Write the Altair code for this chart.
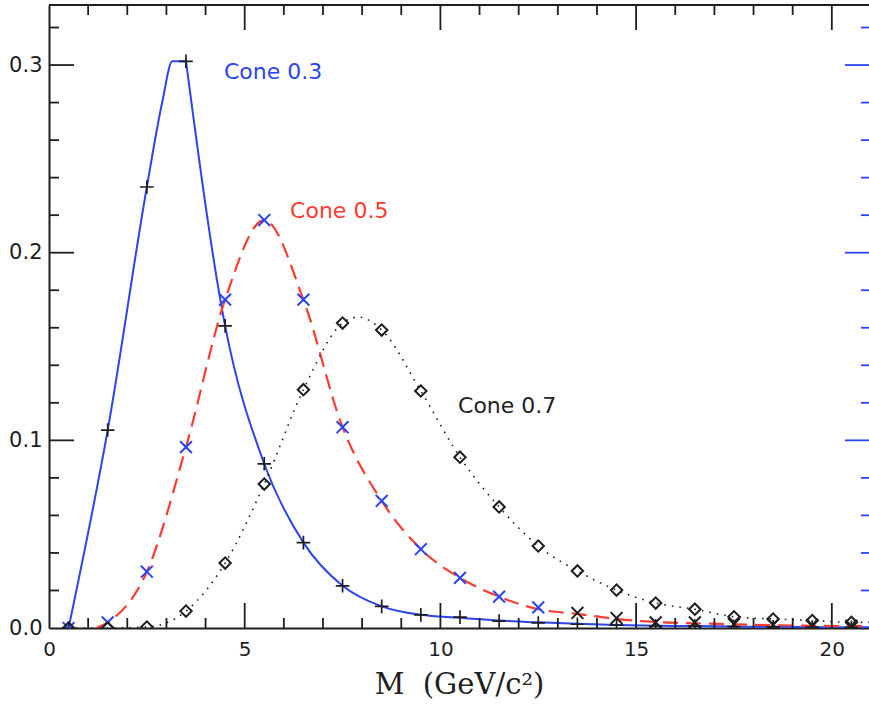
import altair as alt
import pandas as pd

# Bin centres of the mass histogram (GeV/c^2)
mass = [0.5, 1.5, 2.5, 3.5, 4.5, 5.5, 6.5, 7.5, 8.5, 9.5, 10.5,
        11.5, 12.5, 13.5, 14.5, 15.5, 16.5, 17.5, 18.5, 19.5, 20.5]

# Normalised distributions for the three cone sizes (markers)
cone03 = [0.0, 0.1055, 0.235, 0.302, 0.161, 0.0875, 0.0455, 0.0225, 0.0115,
          0.007, 0.0058, 0.0037, 0.0027, 0.002, 0.0015, 0.0012, 0.001,
          0.0008, 0.0006, 0.0005, 0.0004]
cone05 = [0.0, 0.003, 0.030, 0.0964, 0.175, 0.2174, 0.175, 0.107, 0.0677,
          0.042, 0.0267, 0.0167, 0.011, 0.008, 0.0053, 0.003, 0.003,
          0.002, 0.0018, 0.0015, 0.0012]
cone07 = [0.0, 0.0, 0.0005, 0.009, 0.0346, 0.0767, 0.127, 0.1625, 0.1588,
          0.1263, 0.091, 0.0645, 0.0437, 0.0304, 0.0202, 0.0133, 0.010,
          0.006, 0.0048, 0.004, 0.003]

# Smooth curves drawn under the markers.
# The Cone 0.3 curve has a flat top; it is drawn as a rising and a falling part.
rise03_m = [0.5, 1.5, 2.5, 2.9, 3.15, 3.5]
rise03_v = [0.0, 0.1055, 0.235, 0.281, 0.302, 0.302]
fall03_m = [3.5, 4.5, 5.5, 6.5, 7.5, 8.5, 9.5, 10.5, 11.5, 12.5, 13.5,
            14.5, 15.5, 16.5, 17.5, 18.5, 19.5, 20.5, 21.0]
fall03_v = [0.302, 0.161, 0.0875, 0.0455, 0.0225, 0.0115, 0.007, 0.0055,
            0.004, 0.003, 0.0022, 0.0016, 0.0012, 0.001, 0.0008, 0.0006,
            0.0005, 0.0004, 0.0004]
curve05_m = [1.2, 1.5, 2.5, 3.5, 4.5, 5.5, 6.5, 7.5, 8.5, 9.5, 10.5, 11.5,
             12.5, 13.5, 14.5, 15.5, 16.5, 17.5, 18.5, 19.5, 20.5, 21.0]
curve05_v = [0.0, 0.003, 0.030, 0.0964, 0.175, 0.2174, 0.175, 0.107, 0.0677,
             0.042, 0.0267, 0.0167, 0.010, 0.0075, 0.0048, 0.0032, 0.0025,
             0.002, 0.0015, 0.0012, 0.001, 0.001]
curve07_m = [0.5, 1.5, 2.5, 3.5, 4.5, 5.5, 6.5, 7.5, 7.9, 8.5, 9.5, 10.5,
             11.5, 12.5, 13.5, 14.5, 15.5, 16.5, 17.5, 18.5, 19.5, 20.5, 21.0]
curve07_v = [0.0, 0.0, 0.0005, 0.009, 0.0346, 0.0767, 0.127, 0.1625, 0.1657,
             0.1588, 0.1263, 0.091, 0.0645, 0.0437, 0.0304, 0.0202, 0.0133,
             0.010, 0.006, 0.0048, 0.004, 0.003, 0.003]

# Curve labels and their anchor points
label_text = ["Cone 0.3", "Cone 0.5", "Cone 0.7"]
label_m = [4.47, 6.16, 10.45]
label_v = [0.2963, 0.2222, 0.1183]

# Tick positions
x_major = [5, 10, 15, 20]
x_minor = [1, 2, 3, 4, 6, 7, 8, 9, 11, 12, 13, 14, 16, 17, 18, 19]
y_major = [0.1, 0.2, 0.3]
y_minor = [0.02, 0.04, 0.06, 0.08, 0.12, 0.14, 0.16, 0.18, 0.22, 0.24,
           0.26, 0.28, 0.32]
x_labels = [0, 5, 10, 15, 20]
y_labels = [0.0, 0.1, 0.2, 0.3]

BLUE = "#2a44f2"
RED = "#ff3b2f"
INK = "#1e1e1e"
W, H = 820, 623

xs = alt.Scale(domain=[0, 20.95], nice=False, zero=False)
ys = alt.Scale(domain=[0, 0.332], nice=False, zero=False)

x_axis = alt.Axis(
    values=x_labels, ticks=False, grid=False, domainColor=INK,
    domainWidth=2, labelFont="DejaVu Sans", labelFontSize=20,
    labelColor=INK, labelPadding=11, labelFlush=False,
    labelOverlap=False, title="M\u00a0\u00a0(GeV/c\u00b2)",
    titleFont="DejaVu Serif", titleFontSize=29,
    titleFontWeight="normal", titleColor=INK,
    titleBaseline="alphabetic", titleY=65)
y_axis = alt.Axis(
    values=y_labels, format=".1f", ticks=False, grid=False,
    domainColor=INK, domainWidth=2, labelFont="DejaVu Sans",
    labelFontSize=21, labelColor=INK, labelPadding=7,
    labelFlush=False, labelOverlap=False, title=None)

X = lambda f: alt.X(f"{f}:Q", scale=xs, axis=x_axis, title=x_axis.title)
Y = lambda f: alt.Y(f"{f}:Q", scale=ys, axis=y_axis, title=None)

markers = pd.DataFrame({"m": mass, "c03": cone03, "c05": cone05, "c07": cone07})
c03 = pd.concat([
    pd.DataFrame({"m": rise03_m, "v": rise03_v, "part": "rise"}),
    pd.DataFrame({"m": fall03_m, "v": fall03_v, "part": "fall"}),
])
c05 = pd.DataFrame({"m": curve05_m, "v": curve05_v})
c07 = pd.DataFrame({"m": curve07_m, "v": curve07_v})
labels = pd.DataFrame({"m": label_m, "v": label_v, "t": label_text})

line03 = alt.Chart(c03).mark_line(
    interpolate="monotone", color=BLUE, strokeWidth=2, clip=True
).encode(x=X("m"), y=Y("v"), detail="part:N")

line05 = alt.Chart(c05).mark_line(
    interpolate="monotone", color=RED, strokeWidth=2.2,
    strokeDash=[15, 8], clip=True
).encode(x=X("m"), y=Y("v"))

line07 = alt.Chart(c07).mark_line(
    interpolate="monotone", color=INK, strokeWidth=1.6,
    strokeDash=[1.6, 6.0], clip=True
).encode(x=X("m"), y=Y("v"))

plus = alt.Chart(markers).mark_point(
    shape="M-1,0L1,0M0,-1L0,1", size=185, filled=False, strokeWidth=1.7,
    color=INK, opacity=1, clip=True
).encode(x=X("m"), y=Y("c03"))

cross = alt.Chart(markers).mark_point(
    shape="M-1,-1L1,1M-1,1L1,-1", size=140, filled=False, strokeWidth=2,
    opacity=1, clip=True
).encode(
    x=X("m"), y=Y("c05"),
    color=alt.condition("datum.m < 13", alt.value(BLUE), alt.value(INK)),
)

diamond = alt.Chart(markers).mark_point(
    shape="diamond", size=130, filled=False, strokeWidth=2,
    color=INK, opacity=1, clip=True
).encode(x=X("m"), y=Y("c07"))

text = alt.Chart(labels).mark_text(
    align="left", baseline="middle", font="DejaVu Sans", fontSize=22
).encode(
    x=X("m"), y=Y("v"), text="t:N",
    color=alt.Color("t:N", scale=alt.Scale(domain=label_text,
                                           range=[BLUE, RED, INK]),
                    legend=None),
)

# Frame: top edge and inward-pointing ticks
one = pd.DataFrame({"a": [0]})
top_edge = alt.Chart(one).mark_rule(color=INK, strokeWidth=2).encode(
    x=alt.value(0), x2=alt.value(W), y=alt.value(0))

def xticks(vals, length, at_top):
    d = pd.DataFrame({"t": vals})
    y0 = 0 if at_top else H
    y1 = length if at_top else H - length
    return alt.Chart(d).mark_rule(color=INK, strokeWidth=1.8).encode(
        x=X("t"), y=alt.value(y0), y2=alt.value(y1))

def yticks(vals, length, right, color):
    d = pd.DataFrame({"t": vals})
    x0 = W if right else 0
    x1 = W - length if right else length
    return alt.Chart(d).mark_rule(color=color, strokeWidth=1.8).encode(
        y=Y("t"), x=alt.value(x0), x2=alt.value(x1))

ticks = [
    xticks(x_major, 25, False), xticks(x_minor, 10, False),
    xticks(x_major, 25, True), xticks(x_minor, 10, True),
    yticks(y_major, 25, False, INK), yticks(y_minor, 10, False, INK),
    yticks(y_major, 24, True, BLUE), yticks(y_minor, 8, True, BLUE),
]

chart = alt.layer(
    line03, line05, line07, *ticks, top_edge, plus, cross, diamond, text
).properties(
    width=W, height=H,
    padding={"left": 49, "top": 5, "right": 0, "bottom": 82},
    autosize=alt.AutoSizeParams(type="none"),
    background="white",
).configure_view(stroke=None)

chart.save("out.html", embed_options={"renderer": "svg", "actions": False})
